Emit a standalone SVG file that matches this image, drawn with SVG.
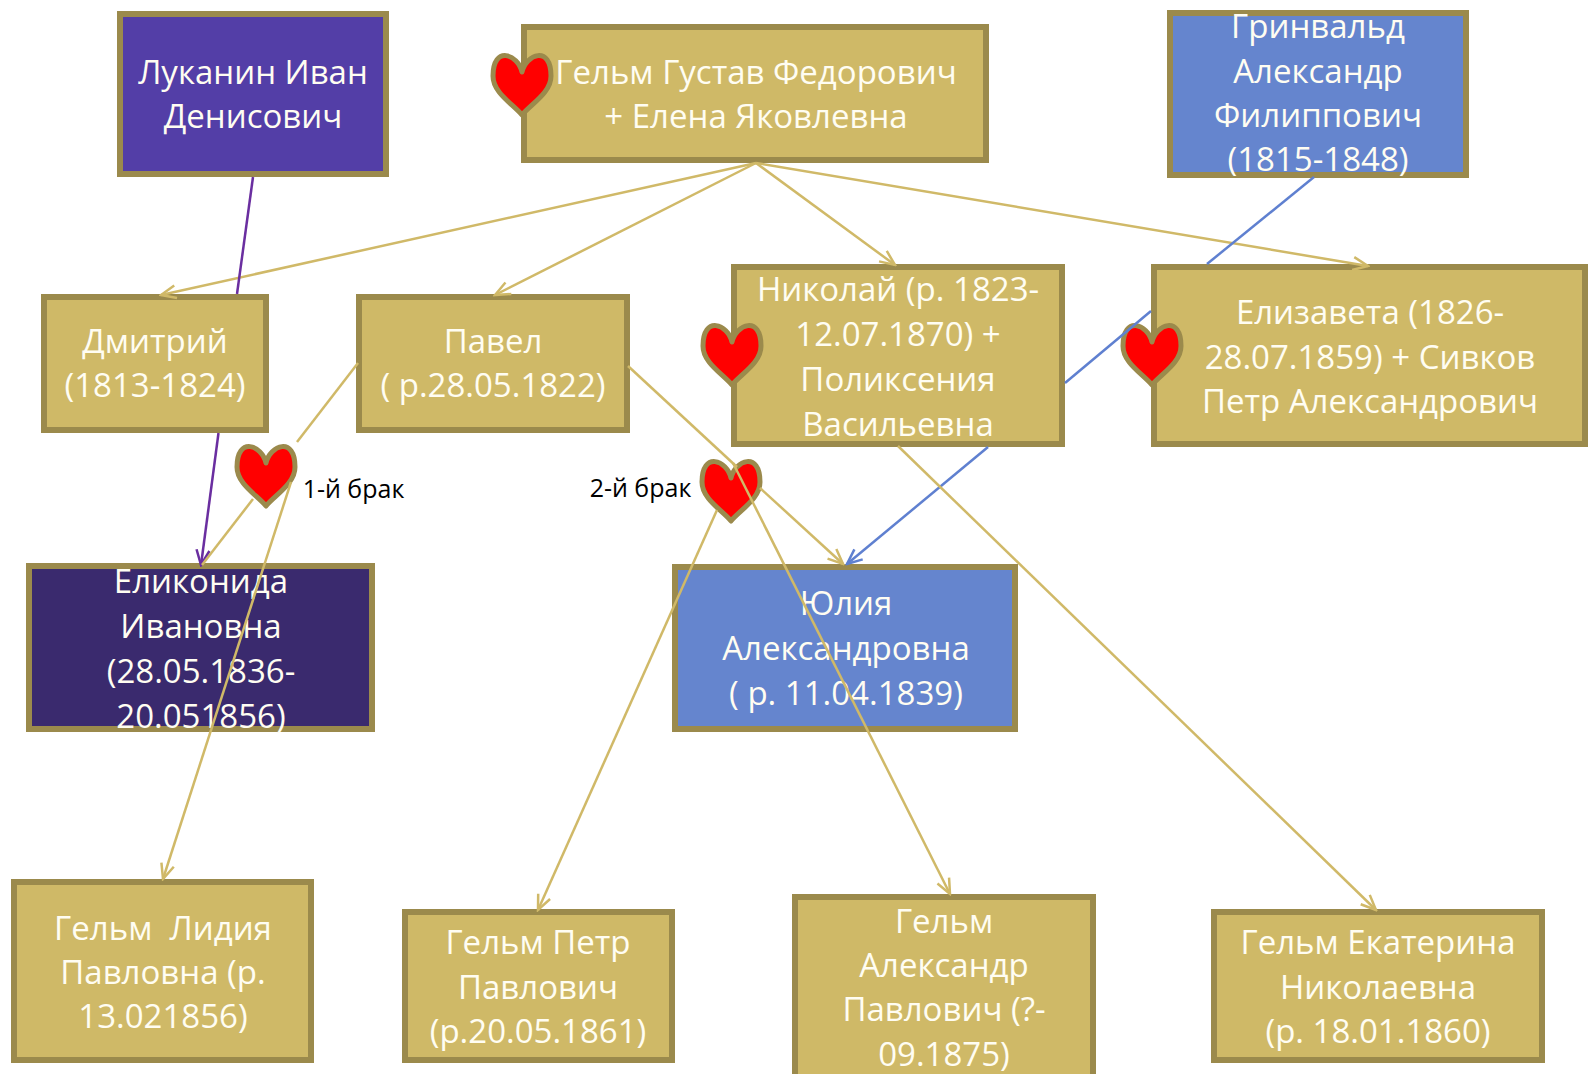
<svg xmlns="http://www.w3.org/2000/svg" xmlns:xlink="http://www.w3.org/1999/xlink" width="1589" height="1074" viewBox="0 0 1589 1074">
<style>
.box{stroke:#9B8A4C;stroke-width:6;}
.gold{fill:#CFB967;}
.violet{fill:#533EA7;}
.dark{fill:#3A2A6E;}
.blue{fill:#6585CE;}
.t{font-family:"Open Sans","Noto Sans","DejaVu Sans",sans-serif;font-size:33px;fill:#FFFDF2;text-anchor:middle;white-space:pre;}
.lbl{font-family:"Open Sans","Noto Sans","DejaVu Sans",sans-serif;font-size:25px;fill:#000;text-anchor:middle;}
.heart{fill:#FF0000;stroke:#9B8A4C;stroke-width:5;stroke-linejoin:round;}
.cg{stroke:#D0B968;stroke-width:2.5;fill:none;}
.cp{stroke:#6A2EA0;stroke-width:2.5;fill:none;}
.cb{stroke:#5F80D0;stroke-width:2.5;fill:none;}
</style>
<defs>
<path id="heart" d="M0,-13 C-4,-31 -29,-40 -29,-9 C-29,8 -9,19 0,30 C9,19 29,8 29,-9 C29,-40 4,-31 0,-13 Z"/>
<marker id="ag" markerUnits="userSpaceOnUse" markerWidth="18" markerHeight="18" viewBox="0 0 18 18" refX="16" refY="9" orient="auto"><path d="M1,2.5 L16,9 L1,15.5" fill="none" stroke="#D0B968" stroke-width="2.5"/></marker>
<marker id="ap" markerUnits="userSpaceOnUse" markerWidth="18" markerHeight="18" viewBox="0 0 18 18" refX="16" refY="9" orient="auto"><path d="M1,2.5 L16,9 L1,15.5" fill="none" stroke="#6A2EA0" stroke-width="2.5"/></marker>
<marker id="ab" markerUnits="userSpaceOnUse" markerWidth="18" markerHeight="18" viewBox="0 0 18 18" refX="16" refY="9" orient="auto"><path d="M1,2.5 L16,9 L1,15.5" fill="none" stroke="#5F80D0" stroke-width="2.5"/></marker>
</defs>
<rect width="1589" height="1074" fill="#FFFFFF"/>

<g id="node-lukanin"><rect class="box violet" x="120" y="14" width="266" height="160"/>
<text class="t" x="253" y="84">Луканин Иван</text><text class="t" x="253" y="128">Денисович</text></g>

<g id="node-gelm-gustav"><rect class="box gold" x="524" y="27" width="462" height="133"/>
<text class="t" x="756" y="84">Гельм Густав Федорович</text><text class="t" x="756" y="128">+ Елена Яковлевна</text></g>

<g id="node-grinwald"><rect class="box blue" x="1170" y="13" width="296" height="162"/>
<text class="t" x="1318" y="38">Гринвальд</text><text class="t" x="1318" y="82.5">Александр</text><text class="t" x="1318" y="126.5">Филиппович</text><text class="t" x="1318" y="170.5">(1815-1848)</text></g>

<g id="node-dmitry"><rect class="box gold" x="44" y="297" width="222" height="133"/>
<text class="t" x="155" y="353">Дмитрий</text><text class="t" x="155" y="397">(1813-1824)</text></g>

<g id="node-pavel"><rect class="box gold" x="359" y="297" width="268" height="133"/>
<text class="t" x="493" y="353">Павел</text><text class="t" x="493" y="397">( р.28.05.1822)</text></g>

<g id="node-nikolai"><rect class="box gold" x="734" y="267" width="328" height="177"/>
<text class="t" x="898" y="301">Николай (р. 1823-</text><text class="t" x="898" y="346">12.07.1870) +</text><text class="t" x="898" y="391">Поликсения</text><text class="t" x="898" y="436">Васильевна</text></g>

<g id="node-elizaveta"><rect class="box gold" x="1154" y="267" width="431" height="177"/>
<text class="t" x="1370" y="324">Елизавета (1826-</text><text class="t" x="1370" y="369">28.07.1859) + Сивков</text><text class="t" x="1370" y="413">Петр Александрович</text></g>

<g id="node-elikonida"><rect class="box dark" x="29" y="566" width="343" height="163"/>
<text class="t" x="201" y="593">Еликонида</text><text class="t" x="201" y="638">Ивановна</text><text class="t" x="201" y="683">(28.05.1836-</text><text class="t" x="201" y="728">20.051856)</text></g>

<g id="node-yulia"><rect class="box blue" x="675" y="567" width="340" height="162"/>
<text class="t" x="846" y="615">Юлия</text><text class="t" x="846" y="660">Александровна</text><text class="t" x="846" y="705">( р. 11.04.1839)</text></g>

<g id="node-lidia"><rect class="box gold" x="14" y="882" width="297" height="178"/>
<text class="t" x="163" y="940">Гельм  Лидия</text><text class="t" x="163" y="984">Павловна (р.</text><text class="t" x="163" y="1028">13.021856)</text></g>

<g id="node-petr"><rect class="box gold" x="405" y="912" width="267" height="148"/>
<text class="t" x="538" y="954">Гельм Петр</text><text class="t" x="538" y="999">Павлович</text><text class="t" x="538" y="1043">(р.20.05.1861)</text></g>

<g id="node-alexandr"><rect class="box gold" x="795" y="897" width="298" height="190"/>
<text class="t" x="944" y="932.5">Гельм</text><text class="t" x="944" y="977">Александр</text><text class="t" x="944" y="1021">Павлович (?-</text><text class="t" x="944" y="1066">09.1875)</text></g>

<g id="node-ekaterina"><rect class="box gold" x="1214" y="912" width="328" height="148"/>
<text class="t" x="1378" y="954">Гельм Екатерина</text><text class="t" x="1378" y="999">Николаевна</text><text class="t" x="1378" y="1043">(р. 18.01.1860)</text></g>

<g id="hearts">
<use xlink:href="#heart" href="#heart" class="heart" transform="translate(522,85)"/>
<use xlink:href="#heart" href="#heart" class="heart" transform="translate(732,355)"/>
<use xlink:href="#heart" href="#heart" class="heart" transform="translate(1152,355)"/>
<use xlink:href="#heart" href="#heart" class="heart" transform="translate(266,476)"/>
<use xlink:href="#heart" href="#heart" class="heart" transform="translate(731,491)"/>
</g>

<g id="labels">
<text class="lbl" x="353.5" y="498">1-й брак</text>
<text class="lbl" x="640.5" y="497">2-й брак</text>
</g>

<g id="connectors">
<line class="cg" x1="756" y1="163" x2="161" y2="295" marker-end="url(#ag)"/>
<line class="cg" x1="756" y1="163" x2="495" y2="295" marker-end="url(#ag)"/>
<line class="cg" x1="756" y1="163" x2="895" y2="265" marker-end="url(#ag)"/>
<line class="cg" x1="756" y1="163" x2="1368" y2="266" marker-end="url(#ag)"/>
<line class="cp" x1="253" y1="177" x2="237" y2="294"/>
<line class="cp" x1="218.5" y1="433" x2="201" y2="565" marker-end="url(#ap)"/>
<line class="cb" x1="1314" y1="177" x2="1207" y2="264"/>
<line class="cb" x1="1151" y1="311" x2="1065" y2="383"/>
<line class="cb" x1="988" y1="447" x2="847" y2="564" marker-end="url(#ab)"/>
<line class="cg" x1="358" y1="363" x2="297" y2="442"/>
<line class="cg" x1="253" y1="499" x2="202" y2="565"/>
<line class="cg" x1="291" y1="482" x2="163" y2="879" marker-end="url(#ag)"/>
<line class="cg" x1="628" y1="366" x2="737" y2="467"/>
<line class="cg" x1="760" y1="488" x2="843" y2="564" marker-end="url(#ag)"/>
<line class="cg" x1="733" y1="463" x2="950" y2="894" marker-end="url(#ag)"/>
<line class="cg" x1="717" y1="510" x2="538" y2="910" marker-end="url(#ag)"/>
<line class="cg" x1="898" y1="446" x2="1376" y2="910" marker-end="url(#ag)"/>
</g>
</svg>
